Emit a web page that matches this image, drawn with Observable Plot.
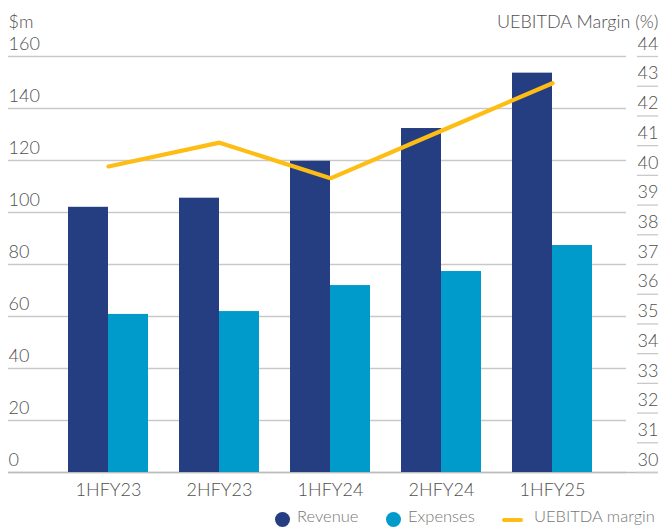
<!DOCTYPE html>
<html>
<head>
<meta charset="utf-8">
<script src="https://cdn.jsdelivr.net/npm/d3@7"></script>
<script src="https://cdn.jsdelivr.net/npm/@observablehq/plot@0.6"></script>
<style>
  html, body { margin: 0; padding: 0; background: #fff; }
  body { font-family: Lato, "Open Sans", sans-serif; font-weight: 300; }
  #chart { width: 661px; }
  #chart svg text { font-weight: 300; }
  .legend { position: relative; width: 661px; height: 23px; font-size: 16.5px; color: #777; }
  .legend .item { position: absolute; top: 0; height: 23px; line-height: 23px; white-space: nowrap; }
  .legend .sw-dot { position: absolute; width: 15px; height: 15px; border-radius: 50%; top: 7px; }
  .legend .sw-line { position: absolute; width: 21px; height: 4px; top: 13px; border-radius: 2px; }
</style>
</head>
<body>
<div id="chart"></div>
<div class="legend" id="legend"></div>
<script>
const periods = ["1HFY23", "2HFY23", "1HFY24", "2HFY24", "1HFY25"];
const revenue = [102.0, 105.5, 119.7, 132.3, 153.6];
const expenses = [60.8, 61.9, 71.9, 77.3, 87.3];
const margin = [40.3, 41.1, 39.9, 41.5, 43.1];
const leftTicks = [0, 20, 40, 60, 80, 100, 120, 140, 160];
const rightTicks = [30, 31, 32, 33, 34, 35, 36, 37, 38, 39, 40, 41, 42, 43, 44];
const seriesNames = ["Revenue", "Expenses", "UEBITDA margin"];
const colors = ["#253e82", "#009bcb", "#fdbd14"];

const leftDomain = [0, 160];
const rightDomain = [30, 44];
const toLeft = m => leftDomain[0] + (m - rightDomain[0]) * (leftDomain[1] - leftDomain[0]) / (rightDomain[1] - rightDomain[0]);

const rows = periods.map((p, i) => ({period: p, revenue: revenue[i], expenses: expenses[i], margin: margin[i]}));

const textColor = "#505050";
const gridColor = "#c9c9c9";

const plot = Plot.plot({
  width: 661,
  height: 505,
  marginTop: 56,
  marginBottom: 33,
  marginLeft: 8,
  marginRight: 35,
  style: {fontFamily: "Lato, 'Open Sans', sans-serif", fontSize: "18px", fontWeight: 300, color: textColor, background: "#fff"},
  x: {domain: periods, paddingInner: 0.2825, paddingOuter: 0.4126, align: 0.641, label: null},
  y: {domain: leftDomain, label: null, axis: null},
  marks: [
    Plot.ruleY(leftTicks, {stroke: gridColor, strokeWidth: 1.3}),
    Plot.ruleY([0], {stroke: "#bdbdbd", strokeWidth: 1.6, insetRight: -32}),
    Plot.tickY(rightTicks, {y: d => toLeft(d), stroke: gridColor, strokeWidth: 1.3, insetLeft: 629, insetRight: -32}),
    Plot.barY(rows, {x: "period", y: "revenue", fill: colors[0], insetRight: 40, insetLeft: 0}),
    Plot.barY(rows, {x: "period", y: "expenses", fill: colors[1], insetLeft: 40, insetRight: 0}),
    Plot.line(rows, {x: "period", y: d => toLeft(d.margin), stroke: colors[2], strokeWidth: 4.2, strokeLinejoin: "miter", strokeLinecap: "round"}),
    Plot.axisX({tickSize: 0, tickPadding: 11, fontSize: 18, fill: textColor}),
    Plot.text(leftTicks, {y: d => d, text: d => String(d), frameAnchor: "left", textAnchor: "start", dy: -12.5, fill: textColor, fontSize: 18}),
    Plot.text(rightTicks, {y: d => toLeft(d), text: d => String(d), frameAnchor: "right", textAnchor: "end", dx: 32, dy: -12.5, fill: textColor, fontSize: 18}),
    Plot.text(["$m"], {frameAnchor: "top-left", textAnchor: "start", lineAnchor: "middle", dy: -34, fill: textColor, fontSize: 18}),
    Plot.text(["UEBITDA Margin (%)"], {frameAnchor: "top-right", textAnchor: "end", lineAnchor: "middle", dx: 32, dy: -34, fill: textColor, fontSize: 18})
  ]
});
document.getElementById("chart").appendChild(plot);

// Legend
const legend = document.getElementById("legend");
const legendItems = [
  {name: seriesNames[0], color: colors[0], kind: "dot", left: 275, textLeft: 297},
  {name: seriesNames[1], color: colors[1], kind: "dot", left: 386, textLeft: 408},
  {name: seriesNames[2], color: colors[2], kind: "line", left: 502, textLeft: 534}
];
for (const it of legendItems) {
  const sw = document.createElement("div");
  sw.className = it.kind === "dot" ? "sw-dot" : "sw-line";
  sw.style.left = it.left + "px";
  sw.style.background = it.color;
  legend.appendChild(sw);
  const t = document.createElement("div");
  t.className = "item";
  t.style.left = it.textLeft + "px";
  t.textContent = it.name;
  legend.appendChild(t);
}
</script>
</body>
</html>
